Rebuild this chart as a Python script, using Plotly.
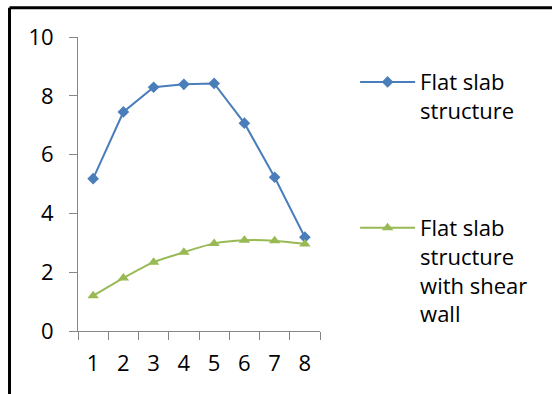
import plotly.graph_objects as go

# Storey numbers and the two response series
storeys = ["1", "2", "3", "4", "5", "6", "7", "8"]
flat_slab = [5.18, 7.45, 8.29, 8.39, 8.42, 7.07, 5.23, 3.19]
flat_slab_shear_wall = [1.20, 1.80, 2.34, 2.68, 2.98, 3.09, 3.07, 2.96]

y_ticks = [0, 2, 4, 6, 8, 10]

BLUE = "#4A7EBB"
GREEN = "#98B954"
AXIS = "#868686"
FONT = dict(family="Open Sans", size=22, color="#000000")

fig = go.Figure()

fig.add_trace(go.Scatter(
    x=storeys, y=flat_slab, mode="lines+markers",
    name="Flat slab<br>structure",
    line=dict(color=BLUE, width=2),
    marker=dict(symbol="diamond", size=9, color=BLUE),
    legend="legend",
))

fig.add_trace(go.Scatter(
    x=storeys, y=flat_slab_shear_wall, mode="lines+markers",
    name="Flat slab<br>structure<br>with shear<br>wall",
    line=dict(color=GREEN, width=2, shape="spline", smoothing=0.6),
    marker=dict(symbol="triangle-up", size=10, color=GREEN),
    legend="legend2",
))

legend_common = dict(
    font=FONT, bgcolor="rgba(0,0,0,0)", borderwidth=0,
    xanchor="left", yanchor="top", valign="top", itemwidth=55,
    tracegroupgap=0,
)

fig.update_layout(
    width=552, height=394,
    margin=dict(l=78, r=232, t=37, b=63),
    paper_bgcolor="#FFFFFF", plot_bgcolor="#FFFFFF",
    font=FONT,
    showlegend=True,
    legend=dict(x=1.145, y=0.918, **legend_common),
    legend2=dict(x=1.145, y=0.422, **legend_common),
    xaxis=dict(
        type="category", range=[-0.5, 7.5],
        tickson="boundaries", ticks="outside", ticklen=8, tickcolor=AXIS,
        showline=True, linecolor=AXIS, linewidth=1,
        showgrid=False, zeroline=False,
        tickfont=FONT, ticklabelstandoff=13,
    ),
    yaxis=dict(
        range=[0, 10], tickvals=y_ticks,
        ticks="outside", ticklen=8, tickcolor=AXIS,
        showline=True, linecolor=AXIS, linewidth=1,
        showgrid=False, zeroline=False,
        tickfont=FONT, ticklabelstandoff=11,
    ),
)

# Heavy frame along the top and left edges of the figure
frame = dict(color="#000000", width=3)
fig.add_shape(type="line", xref="paper", yref="paper",
              x0=-0.283, x1=2.0, y0=1.0995, y1=1.0995, line=frame)
fig.add_shape(type="line", xref="paper", yref="paper",
              x0=-0.283, x1=-0.283, y0=1.0995, y1=-0.5, line=frame)

fig.write_html("out.html")
